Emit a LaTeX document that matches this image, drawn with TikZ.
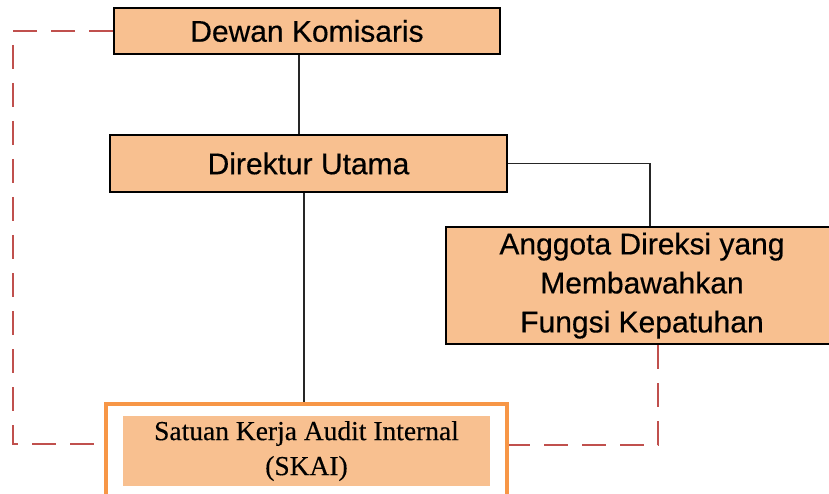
\documentclass[tikz,border=0pt]{standalone}
\usepackage{fontspec}
\setmainfont[FakeBold=0.4]{Liberation Sans}
\newfontfamily\skaiserif[FakeBold=0.3]{Liberation Serif}
\definecolor{boxfill}{RGB}{248,192,144}
\definecolor{skaiorange}{RGB}{247,150,70}
\definecolor{dashred}{RGB}{192,80,77}
\begin{document}
\begin{tikzpicture}[x=1pt,y=-1pt,
  orgbox/.style={draw=black, line width=2pt, fill=boxfill, inner sep=0pt, align=center,
    font=\fontsize{30}{39.5}\selectfont},
  link/.style={draw=black!85, line width=1.5pt},
  dashlink/.style={draw=dashred, line width=2pt, dash pattern=on 24pt off 14pt}]
\clip (0,0) rectangle (829,494);
\fill[white] (0,0) rectangle (829,494);
\node[orgbox, minimum width=386pt, minimum height=46pt] (dk) at (307,31) {Dewan Komisaris};
\node[orgbox, minimum width=397pt, minimum height=57pt] (du) at (308.5,163.5) {Direktur Utama};
\node[orgbox, minimum width=392pt, minimum height=117pt] (ang) at (642,285.5)
  {\raisebox{-4pt}{\begin{tabular}{@{}c@{}}Anggota Direksi yang\\[-0.5pt]Membawahkan\\[-0.5pt]Fungsi Kepatuhan\end{tabular}}};
\node[draw=skaiorange, line width=4pt, inner sep=0pt, minimum width=401pt, minimum height=116pt] (skai) at (306.5,462) {};
\node[fill=boxfill, inner sep=0pt, minimum width=367pt, minimum height=70pt, align=center,
  font=\skaiserif\fontsize{27.5}{35}\selectfont] (skaiin) at (306.5,451)
  {Satuan Kerja Audit Internal\\(SKAI)};
% solid connectors
\draw[link] ([xshift=-8pt]dk.south) -- ([xshift=-8pt]dk.south |- du.north);
\draw[link] ([xshift=-4.5pt]du.south) -- ([xshift=-4.5pt]du.south |- skai.north);
\draw[link] (du.east) -| ([xshift=8pt]ang.north);
% dashed connectors
\coordinate (lb) at (13,444);
\coordinate (rb) at (658,445);
\draw[dashlink] (dk.west) -| (lb) -- (lb -| skai.west);
\draw[dashlink] (ang.south -| rb) -- (rb) -- (rb -| skai.east);
\end{tikzpicture}
\end{document}
